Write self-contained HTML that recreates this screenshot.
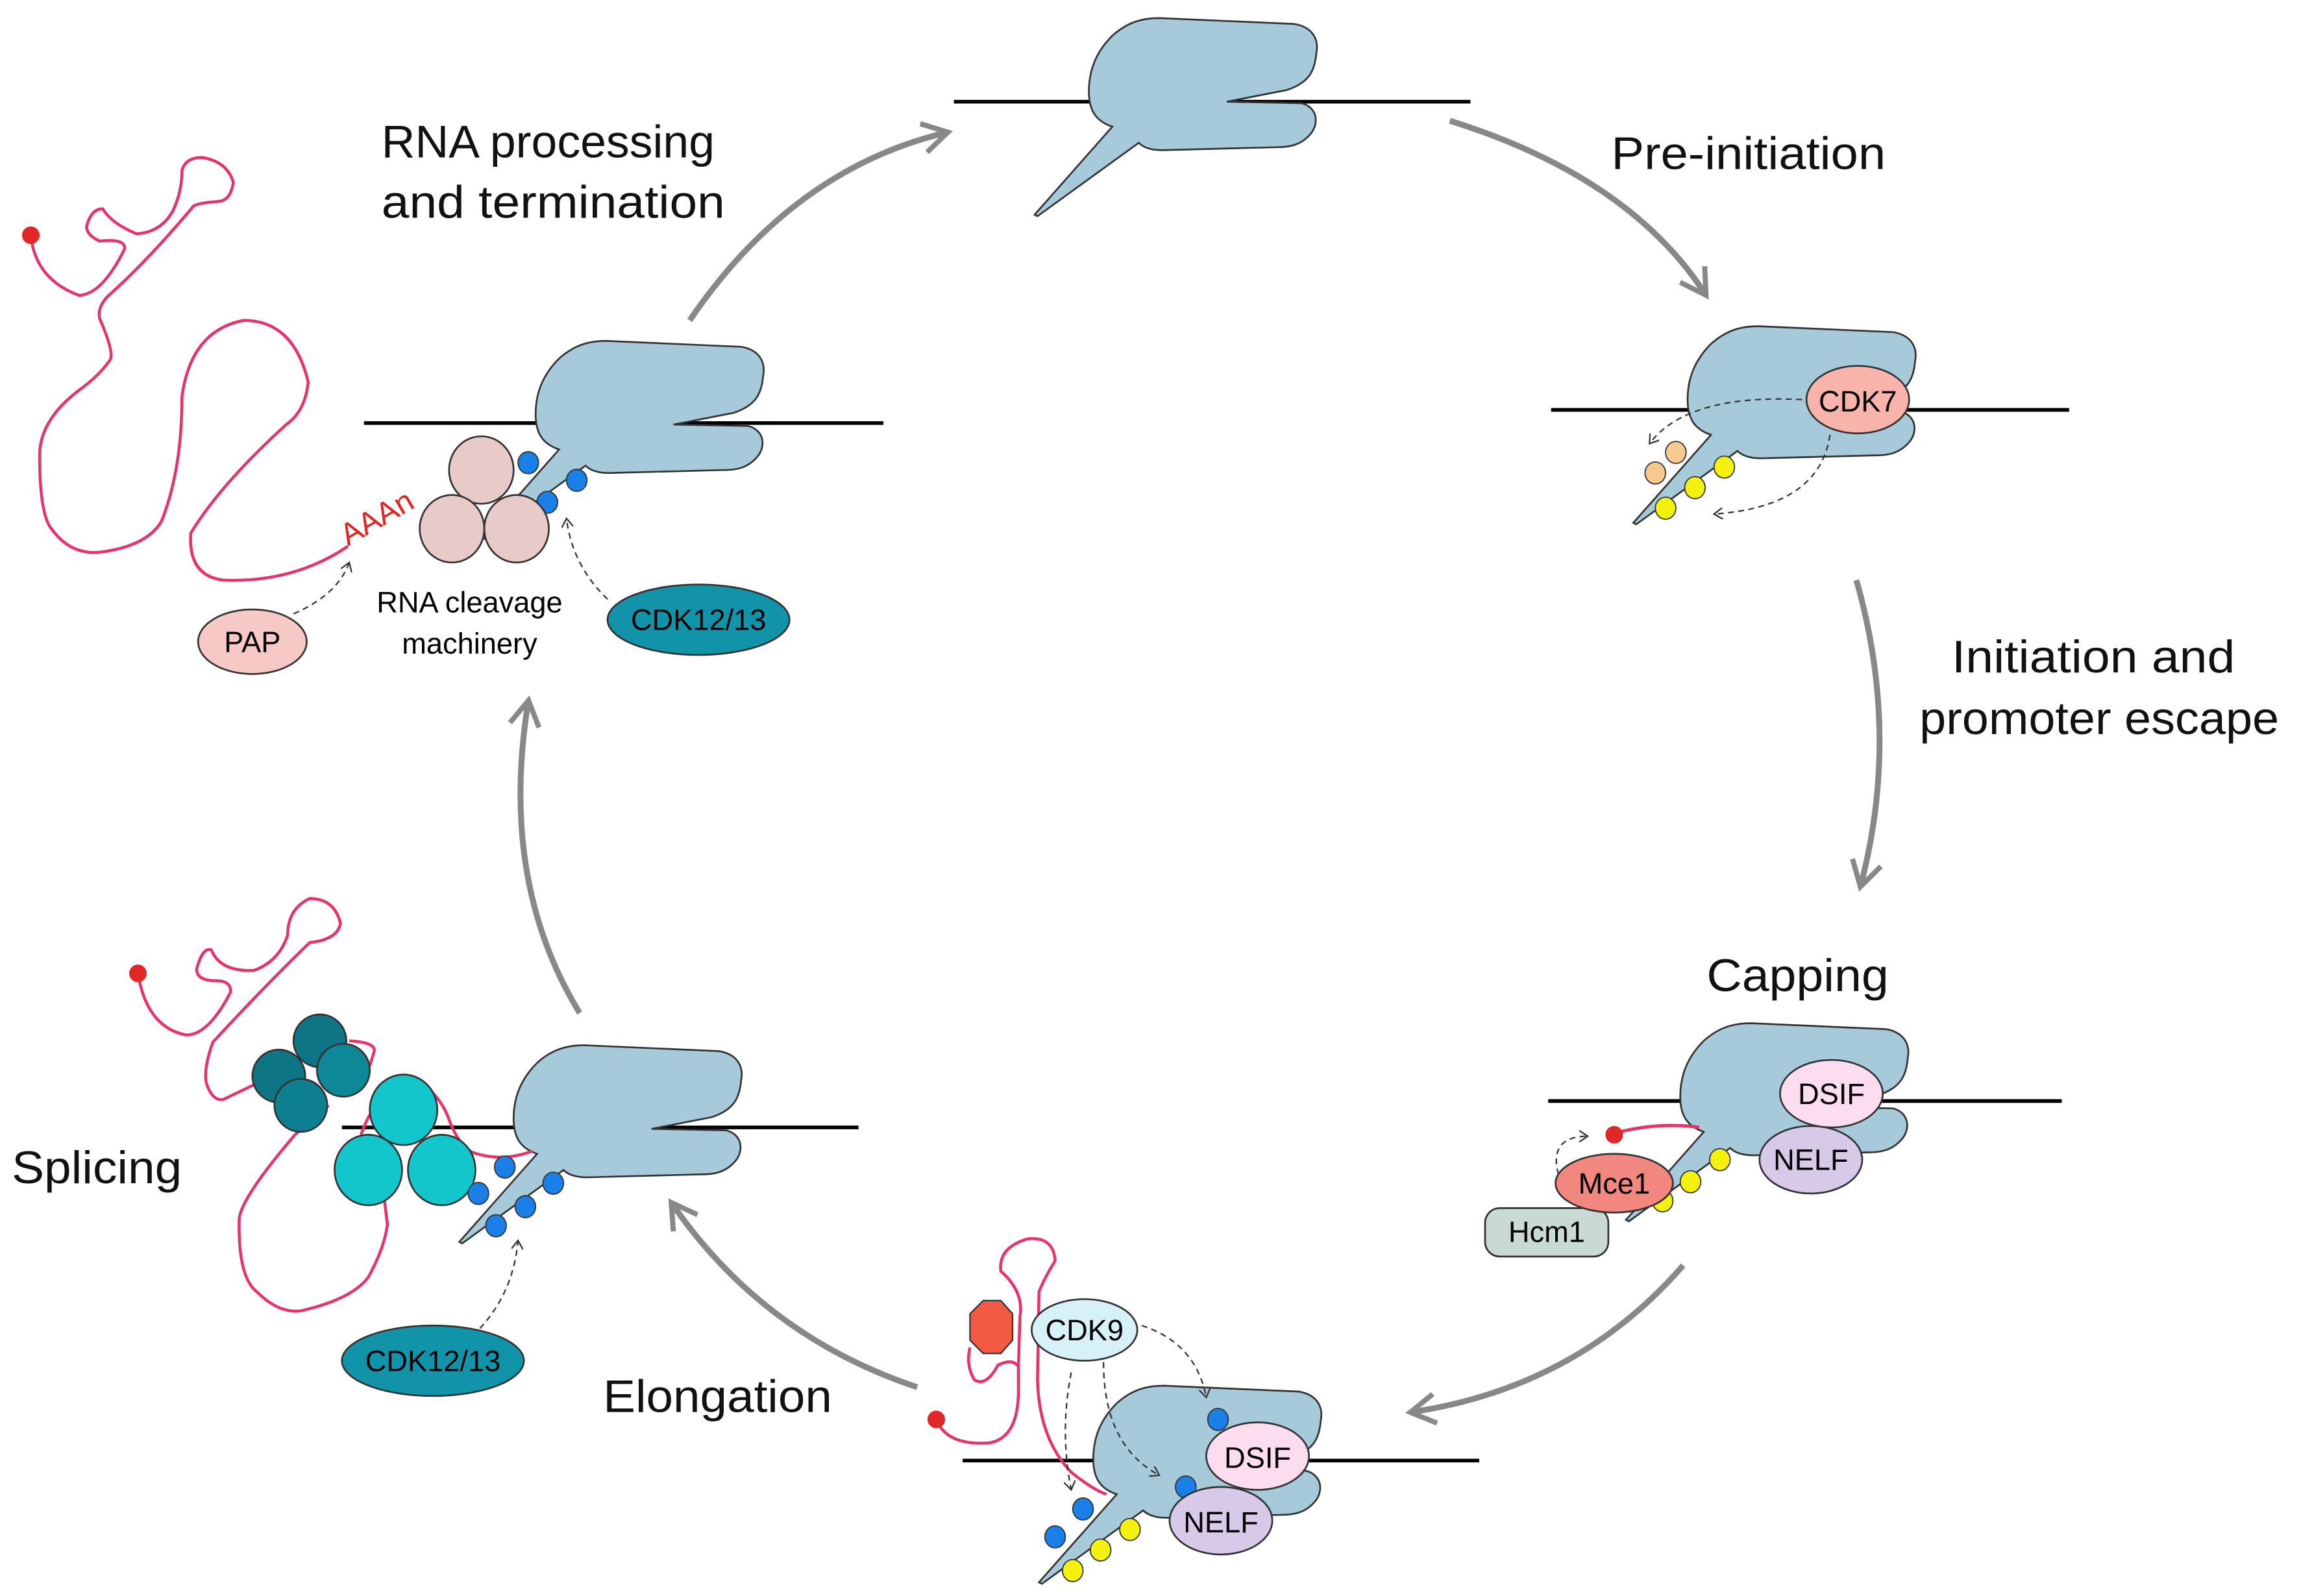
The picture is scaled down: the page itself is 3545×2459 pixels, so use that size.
<!DOCTYPE html>
<html><head><meta charset="utf-8"><style>
html,body{margin:0;padding:0;background:#fff;}
svg{display:block;}
text{font-family:"Liberation Sans",sans-serif;}
</style></head><body>
<svg width="3545" height="2459" viewBox="0 0 1568 1087" xmlns="http://www.w3.org/2000/svg">
<defs>
<path id="pol" d="M48,0 L140,4 C152,6 157,14 155,24 C154,36 150,44 135,49 L94,57 L145,58 C156,61 157,72 151,79 C145,86 138,88 128,88 L50,90 C42,90 37,88 34,85 L-35,135 L-37,134 L16,74 C4,70 0,62 0,50 C0,34 6,22 16,12 C26,3 36,0 48,0 Z" fill="#a7cadb" stroke="#333" stroke-width="1.2"/>
<marker id="gh" markerWidth="24" markerHeight="24" refX="17" refY="11" orient="auto" markerUnits="userSpaceOnUse" viewBox="0 0 24 22">
<path d="M1,1 L18,11 L1,21" fill="none" stroke="#888" stroke-width="3.5"/></marker>
<marker id="dh" markerWidth="8" markerHeight="8" refX="6" refY="4" orient="auto" markerUnits="userSpaceOnUse" viewBox="0 0 8 8">
<path d="M0,0 L6,4 L0,8" fill="none" stroke="#333" stroke-width="1"/></marker>
</defs>

<g fill="none" stroke="#888" stroke-width="4">
<path d="M470,218 Q540,115 645,90" marker-end="url(#gh)"/>
<path d="M988,82 Q1110,120 1162,200" marker-end="url(#gh)"/>
<path d="M1265,395 Q1295,500 1268,603" marker-end="url(#gh)"/>
<path d="M1147,862 Q1075,945 962,962" marker-end="url(#gh)"/>
<path d="M625,945 Q520,910 458,820" marker-end="url(#gh)"/>
<path d="M395,690 Q340,600 360,478" marker-end="url(#gh)"/>
</g>

<g font-size="31" fill="#111" lengthAdjust="spacingAndGlyphs">
<text x="260" y="107" textLength="227" lengthAdjust="spacingAndGlyphs">RNA processing</text>
<text x="260" y="148" textLength="234" lengthAdjust="spacingAndGlyphs">and termination</text>
<text x="1098" y="115" textLength="187" lengthAdjust="spacingAndGlyphs">Pre-initiation</text>
<text x="1330" y="458" textLength="193" lengthAdjust="spacingAndGlyphs">Initiation and</text>
<text x="1308" y="500" textLength="245" lengthAdjust="spacingAndGlyphs">promoter escape</text>
<text x="1163" y="675" textLength="124" lengthAdjust="spacingAndGlyphs">Capping</text>
<text x="8" y="806" textLength="116" lengthAdjust="spacingAndGlyphs">Splicing</text>
<text x="411" y="962" textLength="156" lengthAdjust="spacingAndGlyphs">Elongation</text>
</g>

<line x1="650" y1="69" x2="1002" y2="69" stroke="#000" stroke-width="2.5"/>
<use href="#pol" x="742" y="12"/>

<line x1="1057" y1="279" x2="1410" y2="279" stroke="#000" stroke-width="2.5"/>
<use href="#pol" x="1150" y="222"/>
<ellipse cx="1266" cy="272" rx="35" ry="23" fill="#f8b4aa" stroke="#333" stroke-width="1.2"/>
<text x="1266" y="280" font-size="20" text-anchor="middle">CDK7</text>
<g fill="none" stroke="#333" stroke-width="1" stroke-dasharray="4,3">
<path d="M1228,272 Q1150,268 1124,302" marker-end="url(#dh)"/>
<path d="M1247,296 Q1240,345 1168,350" marker-end="url(#dh)"/>
</g>
<g stroke="#333" stroke-width="0.8">
<ellipse cx="1142" cy="308" rx="7" ry="7.5" fill="#f7c98e"/>
<ellipse cx="1128" cy="322" rx="7" ry="7.5" fill="#f7c98e"/>
<ellipse cx="1175" cy="318" rx="7" ry="7.5" fill="#f5f10f"/>
<ellipse cx="1155" cy="332" rx="7" ry="7.5" fill="#f5f10f"/>
<ellipse cx="1135" cy="346" rx="7" ry="7.5" fill="#f5f10f"/>
</g>

<line x1="1055" y1="750" x2="1405" y2="750" stroke="#000" stroke-width="2.5"/>
<use href="#pol" x="1145" y="697"/>
<path d="M1100,772 Q1130,764 1158,768" fill="none" stroke="#e8336a" stroke-width="2.2"/>
<circle cx="1100" cy="773" r="6" fill="#e02828"/>
<path d="M1062,800 Q1055,774 1082,774" fill="none" stroke="#333" stroke-width="1" stroke-dasharray="4,3" marker-end="url(#dh)"/>
<g stroke="#333" stroke-width="0.8">
<ellipse cx="1133" cy="818" rx="7" ry="7.5" fill="#f5f10f"/>
<ellipse cx="1152" cy="805" rx="7" ry="7.5" fill="#f5f10f"/>
<ellipse cx="1172" cy="790" rx="7" ry="7.5" fill="#f5f10f"/>
</g>
<rect x="1012" y="823" width="84" height="33" rx="10" fill="#c9d9d4" stroke="#333" stroke-width="1.2"/>
<text x="1054" y="846" font-size="20" text-anchor="middle">Hcm1</text>
<ellipse cx="1100" cy="806" rx="40" ry="20" fill="#f2877f" stroke="#333" stroke-width="1.2"/>
<text x="1100" y="813" font-size="20" text-anchor="middle">Mce1</text>
<ellipse cx="1234" cy="790" rx="35" ry="23" fill="#d9c9e9" stroke="#333" stroke-width="1.2"/>
<text x="1234" y="797" font-size="20" text-anchor="middle">NELF</text>
<ellipse cx="1248" cy="745" rx="35" ry="23" fill="#fcdcef" stroke="#333" stroke-width="1.2"/>
<text x="1248" y="752" font-size="20" text-anchor="middle">DSIF</text>

<line x1="656" y1="995" x2="1008" y2="995" stroke="#000" stroke-width="2.5"/>
<use href="#pol" x="745" y="944"/>
<g fill="none" stroke="#e8336a" stroke-width="2">
<path d="M638,967 Q645,985 674,983 Q693,980 694,950 L694,931 Q690,925 680,930 Q672,945 664,940 Q658,930 661,918"/>
<path d="M694,931 L695,897 Q698,880 682,866 Q680,850 700,844 Q718,842 719,859 Q712,870 708,880 L707,940 Q708,980 730,1003 Q745,1015 754,1018"/>
</g>
<circle cx="638" cy="967" r="6" fill="#e02828"/>
<polygon points="670,886 682,886 690,895 690,913 682,922 670,922 661,913 661,895" fill="#f25a44" stroke="#333" stroke-width="1"/>
<ellipse cx="739" cy="906" rx="36" ry="21" fill="#d6f1f7" stroke="#333" stroke-width="1.2"/>
<text x="739" y="913" font-size="20" text-anchor="middle">CDK9</text>
<g fill="none" stroke="#333" stroke-width="1" stroke-dasharray="4,3">
<path d="M778,903 Q815,915 822,952" marker-end="url(#dh)"/>
<path d="M752,928 Q752,985 790,1005" marker-end="url(#dh)"/>
<path d="M730,935 Q722,975 730,1015" marker-end="url(#dh)"/>
</g>
<g stroke="#333" stroke-width="0.8">
<ellipse cx="830" cy="967" rx="7" ry="7.5" fill="#1a7fe6"/>
<ellipse cx="808" cy="1013" rx="7" ry="7.5" fill="#1a7fe6"/>
<ellipse cx="738" cy="1028" rx="7" ry="7.5" fill="#1a7fe6"/>
<ellipse cx="719" cy="1047" rx="7" ry="7.5" fill="#1a7fe6"/>
<ellipse cx="731" cy="1070" rx="7" ry="7.5" fill="#f5f10f"/>
<ellipse cx="750" cy="1056" rx="7" ry="7.5" fill="#f5f10f"/>
<ellipse cx="770" cy="1042" rx="7" ry="7.5" fill="#f5f10f"/>
</g>
<ellipse cx="857" cy="992" rx="35" ry="23" fill="#fcdcef" stroke="#333" stroke-width="1.2"/>
<text x="857" y="1000" font-size="20" text-anchor="middle">DSIF</text>
<ellipse cx="832" cy="1036" rx="35" ry="23" fill="#d9c9e9" stroke="#333" stroke-width="1.2"/>
<text x="832" y="1044" font-size="20" text-anchor="middle">NELF</text>

<line x1="233" y1="768" x2="585" y2="768" stroke="#000" stroke-width="2.5"/>
<use href="#pol" x="350" y="712"/>
<g fill="none" stroke="#e8336a" stroke-width="2">
<path d="M94,663 Q100,700 127,705 Q142,705 157,676 Q158,668 147,668 Q134,668 134,660 Q138,645 144,647 Q150,662 173,661 Q190,655 196,637 Q196,619 211,612 Q228,612 232,629 Q230,640 211,642 Q180,672 145,710 Q138,730 141,739 Q145,750 152,749 L175,738"/>
<path d="M238,709 Q256,710 255,716 L252,726"/>
<path d="M224,753 Q210,765 201,773 Q165,815 163,830 Q162,870 175,880 Q190,895 205,893 Q240,885 251,870 Q262,850 264,834 L262,818"/>
<path d="M246,773 Q252,755 262,748 M290,740 Q300,748 305,760 Q312,780 322,785 Q342,792 363,784"/>
</g>
<circle cx="94" cy="663" r="6" fill="#e02828"/>
<g stroke="#333" stroke-width="1.2">
<ellipse cx="218" cy="709" rx="18" ry="18" fill="#0e7585"/>
<ellipse cx="190" cy="733" rx="18" ry="18" fill="#0e7585"/>
<ellipse cx="234" cy="729" rx="18" ry="18" fill="#0e8797"/>
<ellipse cx="205" cy="753" rx="18" ry="18" fill="#0e7f90"/>
<ellipse cx="275" cy="756" rx="23" ry="24" fill="#12c6cc"/>
<ellipse cx="251" cy="797" rx="23" ry="24" fill="#12c6cc"/>
<ellipse cx="301" cy="797" rx="23" ry="24" fill="#12c6cc"/>
</g>
<g stroke="#333" stroke-width="0.8" fill="#1a7fe6">
<ellipse cx="344" cy="795" rx="7" ry="7.5"/>
<ellipse cx="377" cy="806" rx="7" ry="7.5"/>
<ellipse cx="358" cy="822" rx="7" ry="7.5"/>
<ellipse cx="338" cy="835" rx="7" ry="7.5"/>
<ellipse cx="326" cy="813" rx="7" ry="7.5"/>
</g>
<path d="M327,905 Q350,880 353,845" fill="none" stroke="#333" stroke-width="1" stroke-dasharray="4,3" marker-end="url(#dh)"/>
<ellipse cx="295" cy="927" rx="62" ry="24" fill="#1193aa" stroke="#333" stroke-width="1.2"/>
<text x="295" y="934" font-size="20" text-anchor="middle">CDK12/13</text>

<line x1="248" y1="288" x2="602" y2="288" stroke="#000" stroke-width="2.5"/>
<use href="#pol" x="365" y="232"/>
<path d="M21,160 Q24,190 54,201 Q70,200 85,169 Q85,162 68,164 Q59,160 59,154 Q62,142 70,142 Q76,152 93,159 Q110,158 118,143 Q124,130 124,116 Q126,107 138,107 Q155,110 159,124 Q157,137 148,137 Q135,138 132,140 Q100,178 73,202 Q66,210 68,217 Q78,240 75,245 Q68,255 56,264 Q27,285 27,310 Q27,350 35,360 Q48,378 68,376 Q100,372 110,355 Q124,320 124,270 Q130,225 166,218 Q200,218 210,260 Q208,280 195,289 Q150,330 130,363 Q128,392 152,395 Q200,397 237,372" fill="none" stroke="#e8336a" stroke-width="2"/>
<circle cx="21" cy="160" r="6" fill="#e02828"/>
<text x="237" y="372" font-size="21" fill="#e32222" transform="rotate(-30 237 372)">AAAn</text>
<g stroke="#333" stroke-width="0.8" fill="#1a7fe6">
<ellipse cx="360" cy="315" rx="7" ry="7.5"/>
<ellipse cx="393" cy="327" rx="7" ry="7.5"/>
<ellipse cx="373" cy="342" rx="7" ry="7.5"/>
<ellipse cx="353" cy="345" rx="7" ry="7.5"/>
</g>
<g stroke="#333" stroke-width="1.2" fill="#e8cbc8">
<ellipse cx="328" cy="320" rx="22" ry="23"/>
<ellipse cx="308" cy="360" rx="22" ry="23"/>
<ellipse cx="352" cy="360" rx="22" ry="23"/>
</g>
<text x="320" y="417" font-size="20" text-anchor="middle">RNA cleavage</text>
<text x="320" y="445" font-size="20" text-anchor="middle">machinery</text>
<g fill="none" stroke="#333" stroke-width="1" stroke-dasharray="4,3">
<path d="M200,418 Q230,405 238,383" marker-end="url(#dh)"/>
<path d="M414,408 Q390,385 386,353" marker-end="url(#dh)"/>
</g>
<ellipse cx="172" cy="437" rx="37" ry="22" fill="#f6c9c6" stroke="#333" stroke-width="1.2"/>
<text x="172" y="444" font-size="20" text-anchor="middle">PAP</text>
<ellipse cx="476" cy="422" rx="62" ry="24" fill="#1193aa" stroke="#333" stroke-width="1.2"/>
<text x="476" y="429" font-size="20" text-anchor="middle">CDK12/13</text>
</svg>
</body></html>
